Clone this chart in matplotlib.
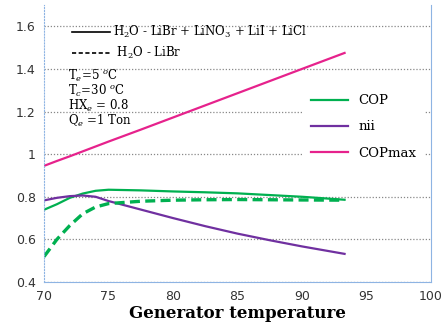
import matplotlib
matplotlib.use("Agg")
import matplotlib.pyplot as plt
from matplotlib.lines import Line2D

plt.rcParams["mathtext.fontset"] = "dejavuserif"

# generator temperature (C)
temp = [70, 71, 72, 73, 74, 75, 77.5, 80, 82.5, 85, 87.5, 90, 93.3]

cop = [0.739, 0.765, 0.795, 0.815, 0.828, 0.833, 0.830, 0.825, 0.821, 0.816, 0.808, 0.800, 0.786]
cop_libr = [0.519, 0.600, 0.665, 0.720, 0.752, 0.768, 0.779, 0.784, 0.786, 0.787, 0.786, 0.785, 0.784]
nii = [0.783, 0.795, 0.803, 0.806, 0.800, 0.780, 0.740, 0.700, 0.662, 0.627, 0.596, 0.567, 0.532]
cop_max = [0.945, 0.968, 0.990, 1.013, 1.036, 1.059, 1.115, 1.172, 1.229, 1.286, 1.343, 1.400, 1.475]

green = "#00B050"
purple = "#7030A0"
pink = "#E6228C"

fig = plt.figure(figsize=(4.43, 3.24), dpi=100)
ax = fig.add_axes([44 / 443, 42 / 324, 387 / 443, 277 / 324])

ax.plot(temp, cop, color=green, lw=1.6, label="COP")
ax.plot(temp, nii, color=purple, lw=1.6, label="nii")
ax.plot(temp, cop_max, color=pink, lw=1.6, label="COPmax")
ax.plot(temp, cop_libr, color=green, lw=2.4, ls=(0, (3, 1.6)))

ax.set_xlim(70, 100)
ax.set_ylim(0.4, 1.7)
ax.set_xticks([70, 75, 80, 85, 90, 95, 100])
ax.set_yticks([0.4, 0.6, 0.8, 1.0, 1.2, 1.4, 1.6])
ax.set_yticklabels(["0.4", "0.6", "0.8", "1", "1.2", "1.4", "1.6"])
ax.tick_params(length=0, labelsize=9, colors="#333333", pad=6)
ax.yaxis.grid(True, ls=(0, (1, 1.5)), color="#888888", lw=0.9)
ax.set_axisbelow(True)

ax.spines["top"].set_visible(False)
ax.spines["left"].set_color("#8EB4E3")
ax.spines["left"].set_linestyle(":")
ax.spines["bottom"].set_color("#8EB4E3")
ax.spines["right"].set_color("#8EB4E3")

ax.set_xlabel("Generator temperature", fontsize=12, fontweight="bold",
              family="DejaVu Serif", labelpad=1)

leg = ax.legend(loc="upper left", bbox_to_anchor=(0.652, 0.73), frameon=True,
                fancybox=False, edgecolor="none", framealpha=1,
                prop={"family": "DejaVu Serif", "size": 9.5},
                handlelength=2.8, labelspacing=1.0, borderpad=0.6)
ax.add_artist(leg)

handles = [Line2D([], [], color="black", lw=1.2),
           Line2D([], [], color="black", lw=1.2, ls=(0, (2.5, 1.5)))]
labels = [r"H$_2$O - LiBr + LiNO$_3$ + LiI + LiCl", r" H$_2$O - LiBr"]
ax.legend(handles, labels, loc="upper left", bbox_to_anchor=(0.045, 0.97),
          frameon=False, prop={"family": "DejaVu Serif", "size": 8.5},
          handlelength=3.2, handletextpad=0.3, labelspacing=0.45)

conditions = [r"T$_e$=5 $^o$C", r"T$_c$=30 $^o$C", r"HX$_e$ = 0.8", r"Q$_e$ =1 Ton"]
for i, line in enumerate(conditions):
    ax.text(0.062, 0.745 - i * 0.055, line, transform=ax.transAxes,
            family="DejaVu Serif", fontsize=8.5, va="center")

fig.savefig("out.png", dpi=100)
